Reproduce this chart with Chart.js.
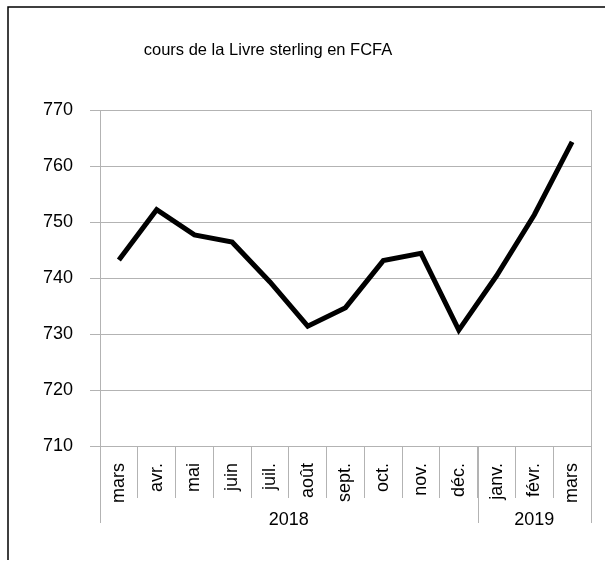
<!DOCTYPE html>
<html>
<head>
<meta charset="utf-8">
<script src="https://cdn.jsdelivr.net/npm/chart.js@4"></script>
<style>
  html, body { margin: 0; padding: 0; background: #fff; }
  #wrap { width: 605px; height: 562px; }
</style>
</head>
<body>
<div id="wrap"><canvas id="chart" width="605" height="562"></canvas></div>
<script>
// Données
const titre = 'cours de la Livre sterling en FCFA';
const mois = ['mars', 'avr.', 'mai', 'juin', 'juil.', 'août', 'sept.', 'oct.', 'nov.', 'déc.', 'janv.', 'févr.', 'mars'];
const cours = [743.2, 752.2, 747.7, 746.4, 739.3, 731.4, 734.7, 743.1, 744.4, 730.7, 740.4, 751.3, 764.3];
const annees = ['2018', '2019'];
const moisParAnnee = [10, 3];

const gris = '#b3b3b3';
const police = 'Liberation Sans, Arial, sans-serif';

// Cadre, titre et ligne des années
const decor = {
    id: 'decor',
    beforeDraw(chart) {
        const ctx = chart.ctx;
        ctx.save();
        ctx.fillStyle = '#fff';
        ctx.fillRect(0, 0, chart.width, chart.height);
        ctx.strokeStyle = '#000';
        ctx.lineWidth = 1.5;
        ctx.beginPath();
        ctx.moveTo(8, chart.height - 2);
        ctx.lineTo(8, 7);
        ctx.lineTo(chart.width, 7);
        ctx.stroke();
        ctx.fillStyle = '#000';
        ctx.font = '16.5px ' + police;
        ctx.textAlign = 'center';
        ctx.textBaseline = 'alphabetic';
        ctx.fillText(titre, 268, 55);
        ctx.restore();
    },
    afterDraw(chart) {
        const ctx = chart.ctx;
        const x = chart.scales.x;
        const area = chart.chartArea;
        const demi = (x.getPixelForValue(1) - x.getPixelForValue(0)) / 2;
        ctx.save();
        ctx.strokeStyle = gris;
        ctx.lineWidth = 1;
        // bord droit de la zone de tracé
        ctx.beginPath();
        ctx.moveTo(Math.round(area.right) + 0.5, area.top);
        ctx.lineTo(Math.round(area.right) + 0.5, area.bottom);
        ctx.stroke();
        ctx.fillStyle = '#000';
        ctx.font = '18px ' + police;
        ctx.textAlign = 'center';
        ctx.textBaseline = 'alphabetic';
        let debut = 0;
        annees.forEach((a, i) => {
            const fin = debut + moisParAnnee[i] - 1;
            const x0 = x.getPixelForValue(debut) - demi;
            const x1 = x.getPixelForValue(fin) + demi;
            [x0, x1].forEach(px => {
                ctx.beginPath();
                ctx.moveTo(Math.round(px) + 0.5, area.bottom);
                ctx.lineTo(Math.round(px) + 0.5, 523);
                ctx.stroke();
            });
            ctx.fillText(a, (x0 + x1) / 2, 525);
            debut = fin + 1;
        });
        ctx.restore();
    }
};

const ctx = document.getElementById('chart').getContext('2d');
const chart = new Chart(ctx, {
    type: 'line',
    data: {
        labels: mois,
        datasets: [{
            data: cours,
            borderColor: '#000',
            borderWidth: 5,
            borderJoinStyle: 'miter',
            pointRadius: 0,
            fill: false,
            tension: 0
        }]
    },
    options: {
        responsive: false,
        animation: false,
        layout: { padding: { top: 110, right: 14, left: 0, bottom: 0 } },
        plugins: {
            legend: { display: false },
            title: { display: false },
            tooltip: { enabled: false }
        },
        scales: {
            x: {
                offset: true,
                afterFit(scale) { scale.height = 116; },
                grid: {
                    offset: true,
                    drawOnChartArea: false,
                    drawTicks: true,
                    tickLength: 52,
                    color: gris
                },
                border: { color: gris },
                ticks: {
                    minRotation: 90,
                    maxRotation: 90,
                    autoSkip: false,
                    padding: -35,
                    color: '#000',
                    font: { family: police, size: 18 }
                }
            },
            y: {
                min: 710,
                max: 770,
                afterFit(scale) { scale.width = 100; },
                grid: { color: gris, tickLength: 10 },
                border: { color: gris },
                ticks: {
                    stepSize: 10,
                    padding: 17,
                    color: '#000',
                    font: { family: police, size: 18 }
                }
            }
        }
    },
    plugins: [decor]
});
</script>
</body>
</html>
